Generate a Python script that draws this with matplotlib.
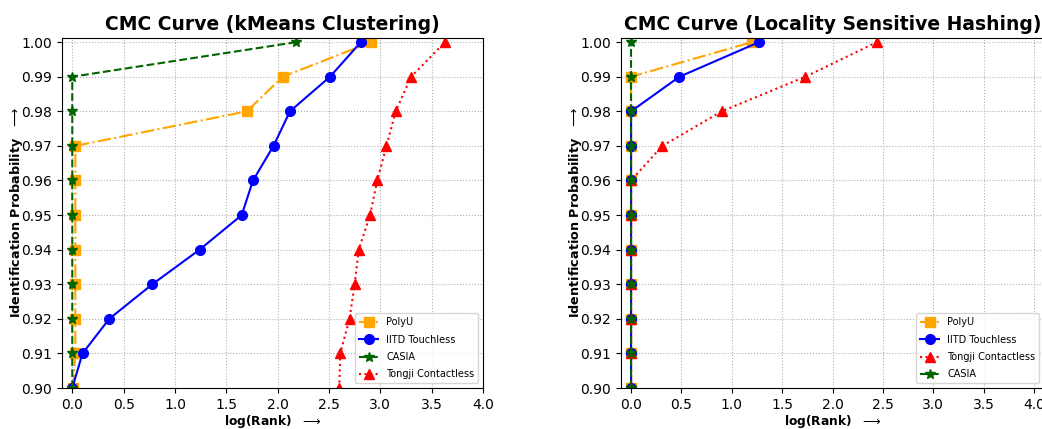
import numpy as np
import matplotlib
matplotlib.use("Agg")
import matplotlib.pyplot as plt

# identification probability levels (shared by every curve)
prob = [0.90, 0.91, 0.92, 0.93, 0.94, 0.95, 0.96, 0.97, 0.98, 0.99, 1.00]

# kMeans clustering: log(rank) reached at each probability level
km_polyu = [0.01, 0.03, 0.03, 0.03, 0.03, 0.03, 0.03, 0.03, 1.70, 2.05, 2.91]
km_iitd = [0.00, 0.10, 0.36, 0.78, 1.24, 1.65, 1.76, 1.96, 2.12, 2.51, 2.81]
km_casia = [0.00, 0.00, 0.00, 0.00, 0.00, 0.00, 0.00, 0.00, 0.00, 0.00, 2.18]
km_tongji = [2.60, 2.61, 2.70, 2.75, 2.79, 2.90, 2.97, 3.06, 3.15, 3.30, 3.63]

# locality sensitive hashing
lsh_polyu = [0.00, 0.00, 0.00, 0.00, 0.00, 0.00, 0.00, 0.00, 0.00, 0.00, 1.20]
lsh_iitd = [0.00, 0.00, 0.00, 0.00, 0.00, 0.00, 0.00, 0.00, 0.00, 0.48, 1.27]
lsh_tongji = [0.00, 0.00, 0.00, 0.00, 0.00, 0.00, 0.00, 0.31, 0.90, 1.73, 2.44]
lsh_casia = [0.00, 0.00, 0.00, 0.00, 0.00, 0.00, 0.00, 0.00, 0.00, 0.00, 0.00]

STYLE = {
    "PolyU": dict(color="orange", linestyle="-.", marker="s"),
    "IITD Touchless": dict(color="blue", linestyle="-", marker="o"),
    "CASIA": dict(color="darkgreen", linestyle="--", marker="*"),
    "Tongji Contactless": dict(color="red", linestyle=":", marker="^"),
}


def style_axes(ax, title, xmax):
    ax.set_xlim(-0.1, xmax)
    ax.set_ylim(0.9, 1.0012)
    ax.set_xticks(np.arange(0, 4.01, 0.5))
    ax.set_yticks(prob)
    ax.yaxis.set_major_formatter(matplotlib.ticker.FormatStrFormatter("%.2f"))
    ax.tick_params(labelsize=10)
    ax.grid(True, linestyle=":", color="#b0b0b0", linewidth=0.8)
    ax.set_title(title, fontsize=13.5, weight="bold")
    ax.set_xlabel(r"log(Rank)  $\longrightarrow$", fontsize=8.8, weight="bold", labelpad=1)
    ax.set_ylabel(r"Identification Probability  $\longrightarrow$", fontsize=9.2,
                  weight="bold", labelpad=-2.5)
    ax.legend(loc="lower right", fontsize=7, labelspacing=0.75)


fig = plt.figure(figsize=(10.42, 4.29), dpi=100)
ax1 = fig.add_axes([62 / 1042, 1 - 388 / 429, 421 / 1042, 350 / 429])
ax2 = fig.add_axes([621 / 1042, 1 - 388 / 429, 423 / 1042, 350 / 429])

for name, xs in [("PolyU", km_polyu), ("IITD Touchless", km_iitd),
                 ("CASIA", km_casia), ("Tongji Contactless", km_tongji)]:
    ax1.plot(xs, prob, label=name, markersize=7, **STYLE[name])
style_axes(ax1, "CMC Curve (kMeans Clustering)", 4.0)

for name, xs in [("PolyU", lsh_polyu), ("IITD Touchless", lsh_iitd),
                 ("Tongji Contactless", lsh_tongji), ("CASIA", lsh_casia)]:
    ax2.plot(xs, prob, label=name, markersize=7, **STYLE[name])
style_axes(ax2, "CMC Curve (Locality Sensitive Hashing)", 4.1)

fig.savefig("out.png", dpi=100)
